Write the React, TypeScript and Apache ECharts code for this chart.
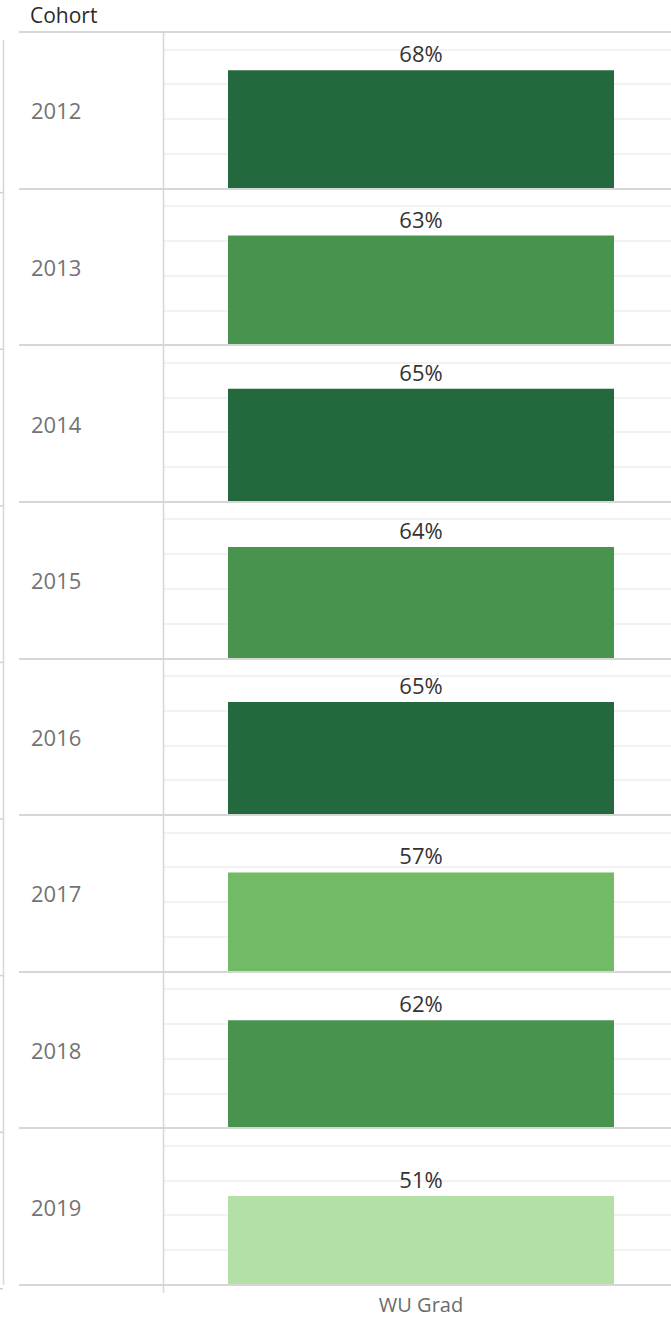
import React, { useEffect, useRef } from "react";
import * as echarts from "echarts";

const years = ["2012", "2013", "2014", "2015", "2016", "2017", "2018", "2019"];
const values = [0.68, 0.63, 0.65, 0.64, 0.65, 0.57, 0.62, 0.51];
const measure = ["WU Grad"];
const headerTitle = "Cohort";
const yMin = 0;
const yMax = 0.9;
const yInterval = 0.2;
const colorBreaks = [0.55, 0.6, 0.65];
const binColors = ["#b3e0a6", "#73ba67", "#48944f", "#24693d"];

const FONT = "'Open Sans', 'Noto Sans', sans-serif";
const TOP = 32;
const ROW = 156.6;
const PLOT_LEFT = 163;
const PLOT_WIDTH = 516;

export default function App() {
  const ref = useRef<HTMLDivElement>(null);

  useEffect(() => {
    if (!ref.current) return;
    const chart = echarts.init(ref.current, null, { renderer: "svg" });
    const n = years.length;

    const grids: any[] = [];
    const xAxes: any[] = [];
    const yAxes: any[] = [];
    const series: any[] = [];

    for (let i = 0; i < n; i++) {
      grids.push({
        left: PLOT_LEFT,
        top: TOP + ROW * i,
        width: PLOT_WIDTH,
        height: ROW,
        containLabel: false,
        outerBoundsMode: "none",
      });
      xAxes.push({
        type: "category",
        gridIndex: i,
        data: measure,
        axisLine: { show: false },
        axisTick: { show: false },
        axisLabel: {
          show: i === n - 1,
          color: "#6b6b6b",
          fontSize: 20,
          fontFamily: FONT,
          margin: 10,
        },
        splitLine: { show: false },
      });
      yAxes.push({
        type: "value",
        gridIndex: i,
        min: yMin,
        max: yMax,
        interval: yInterval,
        axisLine: { show: false },
        axisTick: { show: false },
        axisLabel: { show: false },
        splitLine: { show: true, lineStyle: { color: "#eeeeee", width: 1.5 } },
      });
      series.push({
        type: "bar",
        xAxisIndex: i,
        yAxisIndex: i,
        data: [values[i]],
        barWidth: 386,
        label: {
          show: true,
          position: "top",
          distance: 6,
          color: "#333333",
          fontSize: 22,
          fontFamily: FONT,
          formatter: (p: any) => Math.round(p.value * 100) + "%",
        },
      });
    }

    // Row header grid (years) spanning full width for separators
    grids.push({
      left: 19,
      top: TOP,
      width: 652,
      height: ROW * n,
      containLabel: false,
      outerBoundsMode: "none",
    });
    xAxes.push({ type: "value", gridIndex: n, show: false });
    yAxes.push({
      type: "category",
      gridIndex: n,
      data: years,
      inverse: true,
      axisLine: { show: false },
      axisTick: { show: false },
      axisLabel: {
        align: "left",
        margin: -12,
        color: "#737373",
        fontSize: 22,
        fontFamily: FONT,
      },
      splitLine: { show: true, lineStyle: { color: "#d6d6d6", width: 2 } },
      z: 5,
    });

    const pieces: any[] = [];
    for (let k = 0; k <= colorBreaks.length; k++) {
      const p: any = { color: binColors[k] };
      if (k > 0) p.gte = colorBreaks[k - 1];
      if (k < colorBreaks.length) p.lt = colorBreaks[k];
      pieces.push(p);
    }

    const stubs: any[] = [];
    for (let k = 1; k <= n; k++) {
      stubs.push({
        type: "line",
        shape: { x1: 0, y1: TOP + ROW * k + 4, x2: 3, y2: TOP + ROW * k + 4 },
        style: { stroke: "#d0d0d0", lineWidth: 1.5 },
      });
    }

    chart.setOption({
      animation: false,
      backgroundColor: "#ffffff",
      title: {
        text: headerTitle,
        left: 30,
        top: 4,
        padding: 0,
        textStyle: { color: "#2a2a2a", fontSize: 21, fontWeight: 500, fontFamily: FONT },
      },
      grid: grids,
      xAxis: xAxes,
      yAxis: yAxes,
      visualMap: {
        type: "piecewise",
        show: false,
        seriesIndex: series.map((_, i) => i),
        pieces,
      },
      series,
      graphic: [
        {
          type: "line",
          shape: { x1: 163.5, y1: TOP, x2: 163.5, y2: TOP + ROW * n + 8 },
          style: { stroke: "#d6d6d6", lineWidth: 1.5 },
          z: 10,
        },
        {
          type: "line",
          shape: { x1: 3.5, y1: 40, x2: 3.5, y2: TOP + ROW * n },
          style: { stroke: "#d6d6d6", lineWidth: 1.5 },
          z: 10,
        },
        ...stubs,
      ],
    });

    return () => chart.dispose();
  }, []);

  return (
    <div
      ref={ref}
      style={{ position: "absolute", left: 0, top: 0, width: 671, height: 1319 }}
    />
  );
}
